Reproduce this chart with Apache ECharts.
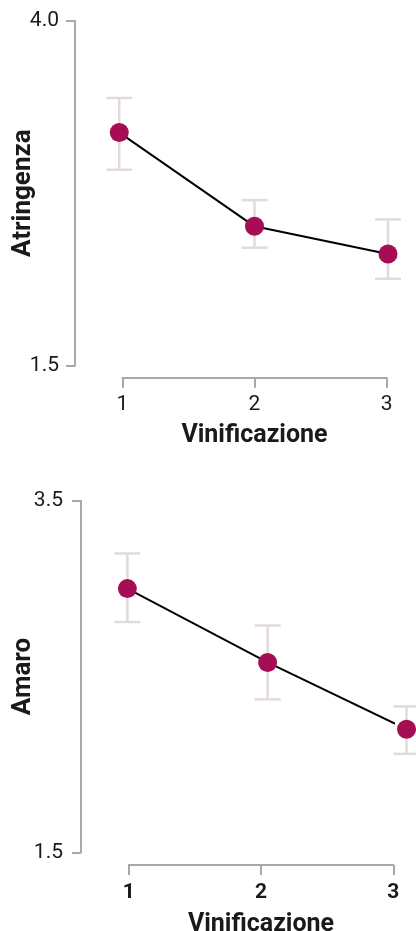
<!DOCTYPE html>
<html>
<head>
<meta charset="utf-8">
<script src="https://cdn.jsdelivr.net/npm/echarts@6/dist/echarts.min.js"></script>
<style>
html,body{margin:0;padding:0;background:#fff;}
#chart{width:416px;height:931px;}
</style>
</head>
<body>
<div id="chart"></div>
<script>
// ---- data ----
var xTickLabels = ['1', '2', '3'];
var xTicks = [1, 2, 3];

var atrX = [0.977, 2.00, 3.01];
var atrMean = [3.19, 2.51, 2.31];
var atrLow = [2.92, 2.355, 2.13];
var atrHigh = [3.44, 2.70, 2.56];
var atrYTicks = [1.5, 4.0];

var amaX = [0.99, 2.05, 3.10];
var amaMean = [3.00, 2.58, 2.20];
var amaLow = [2.81, 2.37, 2.06];
var amaHigh = [3.20, 2.79, 2.33];
var amaYTicks = [1.5, 3.5];

// ---- style ----
var FONT = 'Roboto';
var AXIS_COLOR = '#a8a8a8';
var POINT_COLOR = '#a50d55';
var ERR_COLOR = '#e3dada';

function zip(xs, ys) { return xs.map(function (x, i) { return [x, ys[i]]; }); }
function zip3(xs, lo, hi) { return xs.map(function (x, i) { return [x, lo[i], hi[i]]; }); }

function errorRender(params, api) {
  var x = api.value(0);
  var lo = api.coord([x, api.value(1)]);
  var hi = api.coord([x, api.value(2)]);
  var hw = 13;
  var style = { stroke: ERR_COLOR, lineWidth: 2.5 };
  return {
    type: 'group',
    children: [
      { type: 'line', shape: { x1: hi[0], y1: hi[1], x2: lo[0], y2: lo[1] }, style: style },
      { type: 'line', shape: { x1: hi[0] - hw, y1: hi[1], x2: hi[0] + hw, y2: hi[1] }, style: style },
      { type: 'line', shape: { x1: lo[0] - hw, y1: lo[1], x2: lo[0] + hw, y2: lo[1] }, style: style }
    ]
  };
}

function makeX(gridIndex, offset, boldLabels, nameGap) {
  return {
    type: 'value', gridIndex: gridIndex, min: 1, max: 3, interval: 1,
    offset: offset,
    name: 'Vinificazione', nameLocation: 'middle', nameGap: nameGap, nameMoveOverlap: false,
    nameTextStyle: { fontFamily: FONT, fontSize: 25, fontWeight: 'bold', color: '#1a1a1a' },
    axisLine: { show: true, lineStyle: { color: AXIS_COLOR, width: 2 } },
    axisTick: { show: true, length: 10, lineStyle: { color: AXIS_COLOR, width: 2 } },
    axisLabel: {
      margin: 17, fontFamily: FONT, fontSize: 21, color: '#1a1a1a',
      fontWeight: boldLabels ? 'bold' : 'normal',
      formatter: function (v) { return xTickLabels[xTicks.indexOf(v)]; }
    },
    splitLine: { show: false }
  };
}

function makeY(gridIndex, name, ticks, offset, labelMargin, nameGap) {
  return {
    type: 'value', gridIndex: gridIndex, min: ticks[0], max: ticks[ticks.length - 1],
    offset: offset,
    name: name, nameLocation: 'middle', nameGap: nameGap, nameMoveOverlap: false,
    nameTextStyle: { fontFamily: FONT, fontSize: 26, fontWeight: 'bold', color: '#1a1a1a' },
    axisLine: { show: true, lineStyle: { color: AXIS_COLOR, width: 2 } },
    axisTick: { show: true, length: 9, customValues: ticks, lineStyle: { color: AXIS_COLOR, width: 2 } },
    axisLabel: {
      margin: labelMargin, fontFamily: FONT, fontSize: 21, color: '#1a1a1a',
      customValues: ticks,
      formatter: function (v) { return v.toFixed(1); }
    },
    splitLine: { show: false }
  };
}

var chart = echarts.init(document.getElementById('chart'));
chart.setOption({
  animation: false,
  backgroundColor: '#fff',
  grid: [
    { left: 122.3, right: 29.3, top: 20.7, height: 345, outerBoundsMode: 'none', containLabel: false },
    { left: 128.7, right: 22.7, top: 500.7, height: 351.6, outerBoundsMode: 'none', containLabel: false }
  ],
  xAxis: [makeX(0, 12, false, 46), makeX(1, 12.7, true, 47)],
  yAxis: [
    makeY(0, 'Atringenza', atrYTicks, 47.3, 16, 39),
    makeY(1, 'Amaro', amaYTicks, 47.7, 18, 45)
  ],
  series: [
    { type: 'custom', xAxisIndex: 0, yAxisIndex: 0, renderItem: errorRender, data: zip3(atrX, atrLow, atrHigh), clip: false, z: 1 },
    { type: 'line', xAxisIndex: 0, yAxisIndex: 0, data: zip(atrX, atrMean), symbol: 'none', clip: false,
      lineStyle: { color: '#000', width: 2 }, z: 2 },
    { type: 'scatter', xAxisIndex: 0, yAxisIndex: 0, data: zip(atrX, atrMean), symbolSize: 19, clip: false,
      itemStyle: { color: POINT_COLOR, opacity: 1 }, z: 3 },

    { type: 'custom', xAxisIndex: 1, yAxisIndex: 1, renderItem: errorRender, data: zip3(amaX, amaLow, amaHigh), clip: false, z: 1 },
    { type: 'line', xAxisIndex: 1, yAxisIndex: 1, data: zip(amaX, amaMean), symbol: 'none', clip: false,
      lineStyle: { color: '#000', width: 2 }, z: 2 },
    { type: 'scatter', xAxisIndex: 1, yAxisIndex: 1, data: zip(amaX, amaMean), symbolSize: 19, clip: false,
      itemStyle: { color: POINT_COLOR, opacity: 1 }, z: 3 }
  ]
});
</script>
</body>
</html>
